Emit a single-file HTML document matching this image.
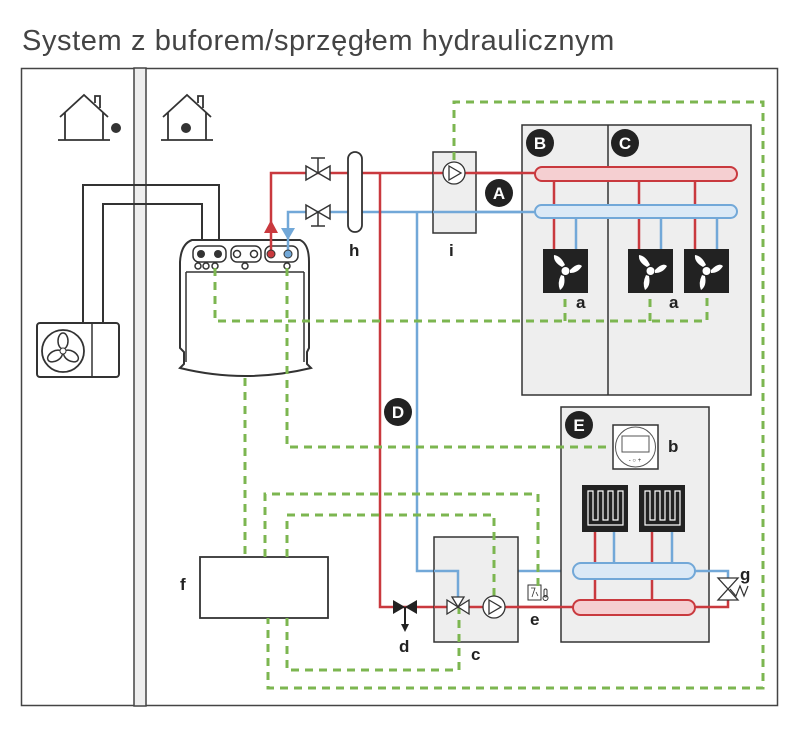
<!DOCTYPE html>
<html><head><meta charset="utf-8"><style>
body{margin:0;background:#fff}
svg{display:block}
.t{font-family:"Liberation Sans",sans-serif;font-weight:bold;font-size:17px;fill:#222}
.g{stroke:#7cb650;stroke-width:3;stroke-dasharray:8 6;fill:none}
.r{stroke:#c9393e;stroke-width:2.5;fill:none}
.b{stroke:#72a8d8;stroke-width:2.5;fill:none}
.k{stroke:#333;stroke-width:2;fill:none}
</style></head><body>
<svg width="800" height="731" viewBox="0 0 800 731" xmlns="http://www.w3.org/2000/svg">
<text x="22" y="50" font-family="Liberation Sans,sans-serif" font-size="29" letter-spacing="0.6" fill="#444">System z buforem/sprzęgłem hydraulicznym</text>
<rect x="21.5" y="68.5" width="756" height="637" fill="none" stroke="#444" stroke-width="1.5"/>
<rect x="134" y="68" width="12" height="638" fill="#eee" stroke="#444" stroke-width="1.5"/>
<!-- houses -->
<g stroke="#333" stroke-width="1.8" fill="none">
<path d="M60 117 L84 95 L108 117 M65 112 V140 M103 112 V140 M58 140 H110 M95 103 V96 H100 V108"/>
<path d="M163 117 L187 95 L211 117 M168 112 V140 M206 112 V140 M161 140 H213 M198 103 V96 H203 V108"/>
</g>
<circle cx="116" cy="128" r="5" fill="#333"/><circle cx="186" cy="128" r="5" fill="#333"/>
<!-- refrigerant lines -->
<path class="k" d="M83 323 V185 H219 V254 M103 323 V204 H202 V254" stroke-width="2.5"/>
<!-- outdoor unit -->
<rect x="37" y="323" width="82" height="54" rx="3" fill="#fff" stroke="#333" stroke-width="2"/>
<line x1="92" y1="323" x2="92" y2="377" stroke="#333" stroke-width="1.5"/>
<circle cx="63" cy="351" r="21" fill="none" stroke="#333" stroke-width="1.8"/>
<g fill="none" stroke="#333" stroke-width="1.5"><ellipse cx="63" cy="341" rx="5" ry="8"/><ellipse cx="55" cy="356" rx="8" ry="5" transform="rotate(-30 55 356)"/><ellipse cx="71" cy="356" rx="8" ry="5" transform="rotate(30 71 356)"/></g>
<circle cx="63" cy="351" r="3" fill="#fff" stroke="#333"/>
<!-- indoor unit -->
<path d="M192 240 H300 Q309 244 309 262 V348 L307 352 V364 L311 368 Q245 384 180 368 L184 364 V352 L180 348 V262 Q181 244 192 240 Z" fill="#fff" stroke="#333" stroke-width="2"/>
<path d="M186 272 V362 M304 272 V362 M186 272 H304" stroke="#333" stroke-width="1.5" fill="none"/>
<g fill="none" stroke="#333" stroke-width="1.5">
<rect x="193" y="246" width="33" height="16" rx="6"/><rect x="231" y="246" width="30" height="16" rx="6"/><rect x="265" y="246" width="33" height="16" rx="6"/>
<circle cx="237" cy="254" r="3.5"/><circle cx="254" cy="254" r="3.5"/>
<circle cx="198" cy="266" r="3"/><circle cx="206" cy="266" r="3"/><circle cx="215" cy="266" r="3"/><circle cx="245" cy="266" r="3"/><circle cx="287" cy="266" r="3"/>
</g>
<circle cx="201" cy="254" r="4" fill="#333"/><circle cx="218" cy="254" r="4" fill="#333"/>
<!-- heating pipes -->
<path class="r" d="M271 250 V173 H537"/>
<path class="b" d="M288 250 V212 H537"/>
<path d="M264 233 L271 220 L278 233 Z" fill="#c9393e"/>
<path d="M281 228 L288 240 L295 228 Z" fill="#72a8d8"/>
<circle cx="271" cy="254" r="4" fill="#c9393e" stroke="#333"/><circle cx="288" cy="254" r="4" fill="#72a8d8" stroke="#333"/>
<path class="r" d="M380 173 V607 H574"/>
<path class="b" d="M417 212 V571 H574"/>
<!-- valves top -->
<g fill="#fff" stroke="#333" stroke-width="1.5">
<path d="M306 166 L330 180 V166 L306 180 Z"/><path d="M318 173 V158 M311 158 H325"/>
<path d="M306 205 L330 219 V205 L306 219 Z"/><path d="M318 212 V226 M311 226 H325"/>
</g>
<!-- separator h -->
<rect x="348" y="152" width="14" height="80" rx="7" fill="#fff" stroke="#333" stroke-width="1.8"/>
<text class="t" x="349" y="256">h</text>
<!-- i -->
<rect x="433" y="152" width="43" height="81" fill="#eee" stroke="#333" stroke-width="1.5"/>
<path class="r" d="M433 173 H476"/><path class="b" d="M433 212 H476"/>
<text class="t" x="449" y="256">i</text>
<!-- A -->
<circle cx="499" cy="193" r="14" fill="#222"/><text x="499" y="199" text-anchor="middle" font-family="Liberation Sans" font-weight="bold" font-size="17" fill="#fff">A</text>
<!-- BC box -->
<rect x="522" y="125" width="229" height="270" fill="#eee" stroke="#333" stroke-width="1.5"/>
<line x1="608" y1="125" x2="608" y2="395" stroke="#333" stroke-width="1.5"/>
<path class="r" d="M476 173 H537"/><path class="b" d="M476 212 H537"/>
<circle cx="540" cy="143" r="14" fill="#222"/><text x="540" y="149" text-anchor="middle" font-family="Liberation Sans" font-weight="bold" font-size="17" fill="#fff">B</text>
<circle cx="625" cy="143" r="14" fill="#222"/><text x="625" y="149" text-anchor="middle" font-family="Liberation Sans" font-weight="bold" font-size="17" fill="#fff">C</text>
<path class="r" d="M554 180 V250 M639 180 V250 M695 180 V250"/>
<path class="b" d="M576 218 V250 M661 218 V250 M717 218 V250"/>
<rect x="535" y="167" width="202" height="14" rx="7" fill="#f5cfd1" stroke="#c9393e" stroke-width="2"/>
<rect x="535" y="205" width="202" height="13" rx="6.5" fill="#dbe9f6" stroke="#72a8d8" stroke-width="2"/>
<g id="fan"><rect x="543" y="249" width="45" height="44" fill="#222"/>
<g fill="#fff"><circle cx="565.5" cy="271" r="4"/><path d="M562 267 Q553 262 554 255 Q561 256 565 265 Z"/><path d="M570 270 Q578 262 582 266 Q578 273 570 273 Z"/><path d="M564 276 Q566 286 560 290 Q557 283 561 275 Z"/></g></g>
<use href="#fan" x="85"/><use href="#fan" x="141"/>
<text class="t" x="576" y="308">a</text><text class="t" x="669" y="308">a</text>
<!-- D -->
<circle cx="398" cy="412" r="14" fill="#222"/><text x="398" y="418" text-anchor="middle" font-family="Liberation Sans" font-weight="bold" font-size="17" fill="#fff">D</text>
<!-- f -->
<rect x="200" y="557" width="128" height="61" fill="#fff" stroke="#333" stroke-width="1.8"/>
<text class="t" x="180" y="590">f</text>
<!-- c box -->
<rect x="434" y="537" width="84" height="105" fill="#eee" stroke="#333" stroke-width="1.5"/>
<path class="r" d="M434 607 H518"/><path class="b" d="M434 571 H458 V600"/>
<text class="t" x="471" y="660">c</text>
<!-- d valve -->
<path d="M393 600 L417 614 V600 L393 614 Z" fill="#222"/>
<path d="M405 607 V628" stroke="#222" stroke-width="2"/><path d="M401 624 L405 632 L409 624 Z" fill="#222"/>
<text class="t" x="399" y="652">d</text>
<!-- e -->
<rect x="528" y="585" width="13" height="15" fill="#fff" stroke="#333" stroke-width="1"/>
<path d="M531 588 H535 L532 597 M536 592 L538 596" stroke="#333" stroke-width="0.8" fill="none"/>
<rect x="544" y="589" width="3" height="8" rx="1.5" fill="none" stroke="#333" stroke-width="1"/><circle cx="545.5" cy="598" r="2.5" fill="none" stroke="#333"/>
<text class="t" x="530" y="625">e</text>
<!-- E box -->
<rect x="561" y="407" width="148" height="235" fill="#eee" stroke="#333" stroke-width="1.5"/>
<path class="r" d="M518 607 H574"/>
<circle cx="579" cy="425" r="14" fill="#222"/><text x="579" y="431" text-anchor="middle" font-family="Liberation Sans" font-weight="bold" font-size="17" fill="#fff">E</text>
<rect x="613" y="425" width="45" height="44" fill="#fff" stroke="#333" stroke-width="1.5"/>
<circle cx="635.5" cy="447" r="20" fill="none" stroke="#555" stroke-width="1"/>
<rect x="622" y="436" width="27" height="16" fill="none" stroke="#555" stroke-width="1"/>
<text x="635" y="462" text-anchor="middle" font-family="Liberation Sans" font-size="6" fill="#333">- ○ +</text>
<text class="t" x="668" y="452">b</text>
<path class="r" d="M595 532 V601 M652 532 V601"/>
<path class="b" d="M614 532 V565 M672 532 V565"/>
<g id="uf"><rect x="582" y="485" width="46" height="47" fill="#222"/>
<path d="M588 525 V491 H593 V520 H598 V491 H603 V520 H608 V491 H613 V520 H618 V491 H623 V525 Z" fill="none" stroke="#fff" stroke-width="1.2"/></g>
<use href="#uf" x="57"/>
<rect x="573" y="563" width="122" height="16" rx="8" fill="#dbe9f6" stroke="#72a8d8" stroke-width="2"/>
<rect x="573" y="600" width="122" height="15" rx="7.5" fill="#f5cfd1" stroke="#c9393e" stroke-width="2"/>
<!-- g valve -->
<path class="b" d="M695 571 H728 V578"/><path class="r" d="M695 607 H728 V600"/>
<path d="M718 578 H738 L718 600 H738 Z" fill="#fff" stroke="#333" stroke-width="1.3"/>
<path d="M730 589 L736 596 L740 586 L744 596 L748 586" fill="none" stroke="#333" stroke-width="1.2"/>
<text class="t" x="740" y="580">g</text>
<!-- green dashed (on top) -->
<path class="g" d="M454 160 V102 H763 V688 H268 V618"/>
<path class="g" d="M215 268 V321 H707 V293 M565 321 V293 M650 321 V293"/>
<path class="g" d="M287 268 V447 H611"/>
<path class="g" d="M245 378 V557"/>
<path class="g" d="M265 557 V494 H538 V588"/>
<path class="g" d="M287 557 V515 H494 V596"/>
<path class="g" d="M287 618 V670 H459 V608"/>
<!-- components over green -->
<circle cx="454" cy="173" r="11" fill="#fff" stroke="#333" stroke-width="1.3"/><path d="M449 166 L461 173 L449 180 Z" fill="none" stroke="#333" stroke-width="1.3"/>
<path d="M447 600 L469 614 V600 L447 614 Z" fill="#fff" stroke="#333" stroke-width="1.3"/>
<path d="M458 607 L452 597 H464 Z" fill="#fff" stroke="#333" stroke-width="1.3"/>
<circle cx="494" cy="607" r="11" fill="#fff" stroke="#333" stroke-width="1.3"/><path d="M489 600 L501 607 L489 614 Z" fill="none" stroke="#333" stroke-width="1.3"/>
</svg>
</body></html>
